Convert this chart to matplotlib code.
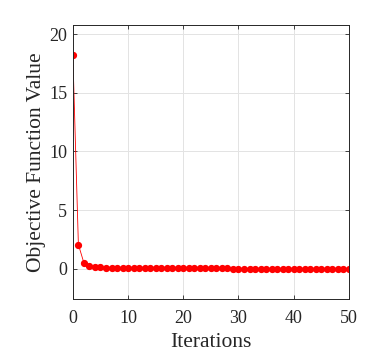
import numpy as np
import matplotlib
matplotlib.use('Agg')
import matplotlib.pyplot as plt

# Objective value per iteration
iterations = list(range(51))
obj_values = [18.2, 2.05, 0.48, 0.22, 0.14, 0.1, 0.08, 0.06, 0.05, 0.04,
              0.035, 0.03, 0.025, 0.02, 0.02, 0.015, 0.015, 0.012, 0.01, 0.01,
              0.01, 0.008, 0.008, 0.007, 0.006, 0.006, 0.005, 0.005, 0.005, 0.004,
              0.004, 0.004, 0.003, 0.003, 0.003, 0.003, 0.003, 0.002, 0.002, 0.002,
              0.002, 0.002, 0.002, 0.002, 0.001, 0.001, 0.001, 0.001, 0.001, 0.001,
              0.001]

plt.rcParams['font.family'] = ['Liberation Serif', 'DejaVu Serif']

fig = plt.figure(figsize=(3.68, 3.53), dpi=100)
ax = fig.add_axes([0.198, 0.153, 0.750, 0.776])

ax.plot(iterations, obj_values, color='red', linewidth=0.6,
        marker='o', markersize=4.2, markerfacecolor='red', markeredgecolor='red')

ax.set_xlim(0, 50)
ax.set_ylim(-2.6, 20.8)
ax.set_xticks([0, 10, 20, 30, 40, 50])
ax.set_yticks([0, 5, 10, 15, 20])
ax.grid(True, color='#e3e3e3', linewidth=0.7)
ax.set_axisbelow(True)

ax.tick_params(direction='in', top=True, right=True, length=3, width=0.6,
               labelsize=13, colors='#262626')
ax.tick_params(axis='x', pad=8)
ax.tick_params(axis='y', pad=4)
for s in ax.spines.values():
    s.set_color('#262626')
    s.set_linewidth(0.7)

ax.set_xlabel('Iterations', fontsize=15.5, color='#262626', labelpad=4)
ax.set_ylabel('Objective Function Value', fontsize=15.5, color='#262626', labelpad=2)

fig.savefig('out.png', dpi=100)
